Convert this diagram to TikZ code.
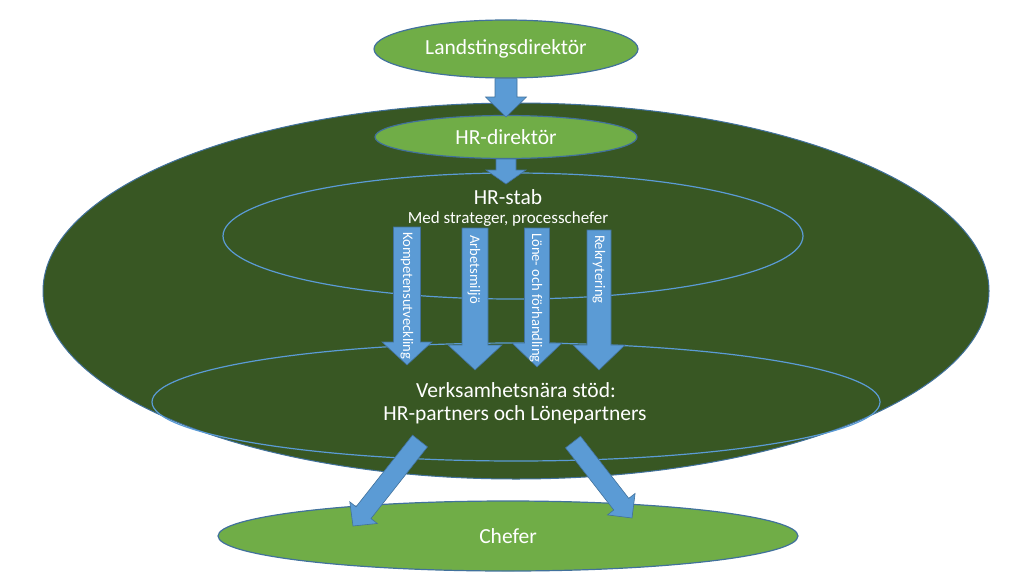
\documentclass[tikz,border=0pt]{standalone}
\usepackage{fontspec}
\setmainfont{Carlito}
\usetikzlibrary{shapes.geometric,calc}
\definecolor{lgreen}{HTML}{70AD47}
\definecolor{dgreen}{HTML}{385723}
\definecolor{bfill}{HTML}{5B9BD5}
\definecolor{bline}{HTML}{41719C}
% #1 start, #2 tip, #3 shaft half width, #4 head half width, #5 head length
\newcommand\blockarrow[5]{%
  \coordinate (ba-h) at ($(#2)!#5!(#1)$);
  \path[barrow] ($(#1)!#3!90:(#2)$) -- ($(ba-h)!#3!-90:(#1)$) -- ($(ba-h)!#4!-90:(#1)$)
    -- (#2) -- ($(ba-h)!#4!90:(#1)$) -- ($(ba-h)!#3!90:(#1)$) -- ($(#1)!#3!-90:(#2)$) -- cycle;
}
\begin{document}
\begin{tikzpicture}[x=1pt,y=-1pt,
  lightell/.style={ellipse, draw=bline, line width=1.2pt, fill=lgreen, inner sep=0pt,
    text=white, font=\fontsize{21.5}{25}\selectfont},
  ringell/.style={ellipse, draw=bfill, line width=1.2pt, inner sep=0pt},
  bigell/.style={ellipse, draw=bline, line width=1pt, fill=dgreen, inner sep=0pt},
  wtext/.style={text=white, inner sep=0pt, font=\fontsize{21.5}{25}\selectfont},
  smalltext/.style={text=white, inner sep=0pt, font=\fontsize{17}{20}\selectfont},
  vlabel/.style={text=white, rotate=-90, anchor=west, inner sep=0pt, font=\fontsize{14.6}{17}\selectfont},
  barrow/.style={fill=bfill, draw=bline, line width=0.6pt, line join=miter}
]
\useasboundingbox (0,0) rectangle (1024,586);

% ellipses
\node[bigell, minimum width=946pt, minimum height=376pt] (big) at (516,291) {};
\node[ringell, minimum width=580pt, minimum height=126pt] (stab) at (513,236) {};
\node[ringell, minimum width=728pt, minimum height=118pt] (vs) at (516,402) {};
\node[lightell, minimum width=264pt, minimum height=58pt] (ld) at (506,49) {Landstingsdirektör};
\node[lightell, minimum width=262pt, minimum height=43pt] (hrd) at (506,137) {HR-direktör};
\node[lightell, minimum width=580pt, minimum height=70pt] (chef) at (508,536) {Chefer};

% texts
\node[wtext] (stabtxt) at (508,197) {HR-stab};
\node[smalltext] (medtxt) at (508,219) {Med strateger, processchefer};
\node[wtext] (vstxt1) at (516,390) {Verksamhetsnära stöd:};
\node[wtext] (vstxt2) at (515,415) {HR-partners och Lönepartners};

% arrow coordinates
\coordinate (hrdtip) at (506,117);
\coordinate (stabtip) at (506,184);
\coordinate (k1s) at (407,227); \coordinate (k1e) at (407,365);
\coordinate (k2s) at (475,228); \coordinate (k2e) at (475,370);
\coordinate (k3s) at (537,228); \coordinate (k3e) at (537,367);
\coordinate (k4s) at (599,230); \coordinate (k4e) at (599,370);
\coordinate (d1s) at (420,441); \coordinate (d1e) at (353,526);
\coordinate (d2s) at (573,442); \coordinate (d2e) at (632,518);

% block arrows
\blockarrow{ld.south}{hrdtip}{11pt}{20.5pt}{20pt}
\blockarrow{hrd.south}{stabtip}{10pt}{20pt}{14pt}
\blockarrow{k1s}{k1e}{13.5pt}{25pt}{23pt}
\blockarrow{k2s}{k2e}{13pt}{27pt}{25pt}
\blockarrow{k3s}{k3e}{12.5pt}{25pt}{24pt}
\blockarrow{k4s}{k4e}{12pt}{26pt}{25pt}
\blockarrow{d1s}{d1e}{9.5pt}{17.5pt}{17pt}
\blockarrow{d2s}{d2e}{9.5pt}{17.5pt}{17.5pt}

% arrow labels
\node[vlabel] (l1) at (407,232) {Kompetensutveckling};
\node[vlabel] (l2) at (474,235) {Arbetsmiljö};
\node[vlabel] (l3) at (536,233) {Löne- och förhandling};
\node[vlabel] (l4) at (599,235) {Rekrytering};
\end{tikzpicture}
\end{document}
